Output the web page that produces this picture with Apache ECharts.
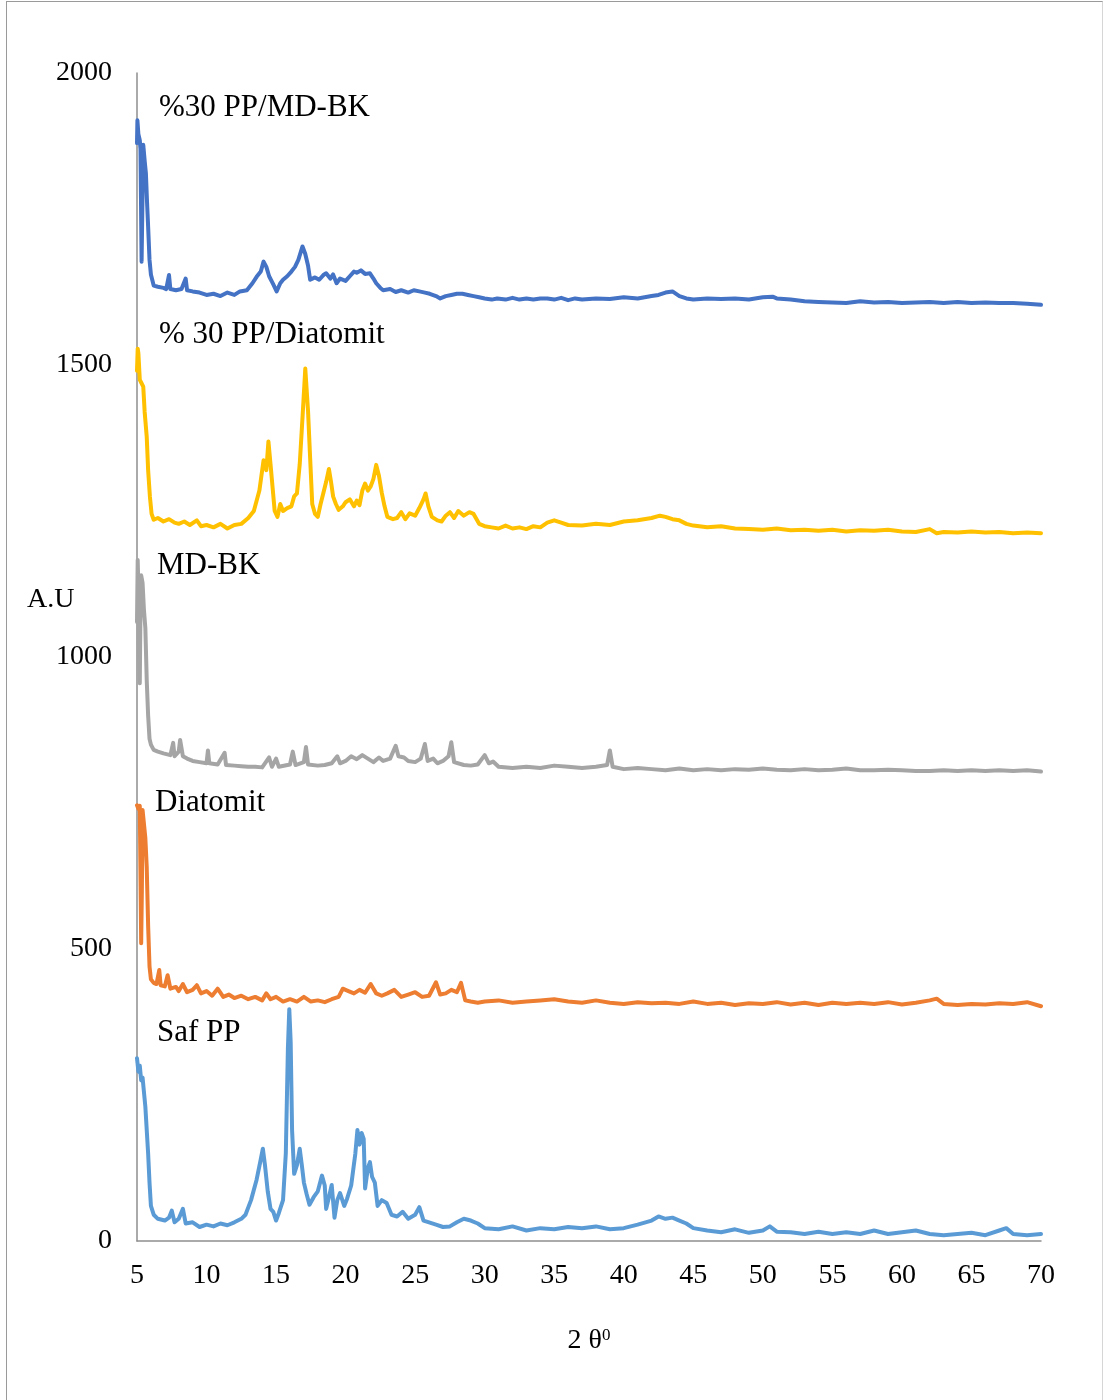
<!DOCTYPE html>
<html>
<head>
<meta charset="utf-8">
<script src="https://cdn.jsdelivr.net/npm/echarts@6/dist/echarts.min.js"></script>
<style>
  html, body { margin: 0; padding: 0; background: #fff; }
  #main { width: 1103px; height: 1400px; }
  #frame {
    position: absolute; left: 6px; top: 1px; width: 1095px; height: 1410px;
    border-left: 1px solid #9a9a9a; border-top: 1px solid #9a9a9a; border-right: 1px solid #d6d6d6;
    pointer-events: none;
  }
</style>
</head>
<body>
<div id="main"></div>
<div id="frame"></div>
<script>
// series names, bottom to top
const seriesNames = ["Saf PP", "Diatomit", "MD-BK", "% 30 PP/Diatomit", "%30 PP/MD-BK"]
const colors = ["#5B9BD5", "#ED7D31", "#A5A5A5", "#FFC000", "#4472C4"]

// [2θ, A.U]
const safPP = [
  [5.0,313],[5.1,290],[5.2,300],[5.3,275],[5.4,280],[5.5,255],[5.6,230],[5.7,190],[5.8,150],[5.9,100],
  [6.0,60],[6.2,45],[6.5,38],[7.0,35],[7.3,40],[7.5,52],[7.7,32],[8.0,38],[8.3,55],[8.5,30],
  [9.0,32],[9.5,24],[10.0,28],[10.5,25],[11.0,30],[11.5,27],[12.0,32],[12.5,38],[12.8,45],[13.2,70],
  [13.6,105],[13.9,140],[14.05,158],[14.2,130],[14.4,85],[14.6,55],[14.8,50],[15.0,35],[15.2,48],[15.5,70],
  [15.7,150],[15.85,330],[15.95,397],[16.05,340],[16.15,190],[16.3,115],[16.5,130],[16.7,158],[16.85,130],[17.0,100],
  [17.2,80],[17.4,62],[17.7,75],[18.0,85],[18.3,112],[18.5,95],[18.6,55],[18.8,75],[19.0,96],[19.2,40],
  [19.4,70],[19.6,82],[19.9,60],[20.1,72],[20.4,95],[20.7,150],[20.85,190],[21.0,165],[21.15,185],[21.3,175],
  [21.4,90],[21.6,125],[21.75,135],[21.9,110],[22.1,100],[22.3,60],[22.6,70],[22.95,65],[23.3,45],[23.7,42],
  [24.1,50],[24.5,38],[25.0,45],[25.3,58],[25.6,35],[26.0,32],[26.5,28],[27.0,24],[27.5,25],[28.0,32],
  [28.5,38],[29.0,35],[29.5,30],[30.0,22],[31.0,20],[32.0,25],[33.0,18],[34.0,22],[35.0,20],[36.0,24],
  [37.0,22],[38.0,25],[39.0,20],[40.0,22],[41.0,28],[42.0,35],[42.5,42],[43.0,38],[43.5,40],[44.0,35],
  [44.5,30],[45.0,22],[46.0,18],[47.0,15],[48.0,20],[49.0,14],[50.0,18],[50.5,25],[51.0,16],[52.0,15],
  [53.0,12],[54.0,16],[55.0,12],[56.0,15],[57.0,12],[58.0,18],[59.0,12],[60.0,15],[61.0,18],[62.0,12],
  [63.0,10],[64.0,12],[65.0,14],[66.0,10],[67.0,18],[67.5,22],[68.0,12],[69.0,10],[70.0,12]
]

const diatomit = [
  [5.0,746],[5.1,740],[5.2,745],[5.3,510],[5.35,600],[5.4,738],[5.5,735],[5.6,690],[5.7,640],[5.8,540],
  [5.9,470],[6.0,448],[6.2,442],[6.4,440],[6.6,464],[6.7,438],[7.0,436],[7.2,455],[7.4,432],[7.8,435],
  [8.0,428],[8.3,440],[8.6,426],[9.0,430],[9.3,438],[9.6,424],[10.0,428],[10.4,420],[10.8,432],[11.2,418],
  [11.6,422],[12.0,416],[12.5,420],[13.0,414],[13.5,418],[14.0,412],[14.3,424],[14.6,414],[15.0,418],[15.5,410],
  [16.0,414],[16.5,410],[17.0,418],[17.5,410],[18.0,412],[18.5,409],[19.0,414],[19.5,418],[19.8,432],[20.2,428],
  [20.6,424],[21.0,430],[21.4,425],[21.8,440],[22.2,424],[22.6,420],[23.0,424],[23.5,430],[24.0,418],[24.5,422],
  [25.0,426],[25.5,418],[26.0,420],[26.5,443],[26.8,422],[27.2,424],[27.6,430],[28.0,426],[28.3,442],[28.6,412],
  [29.0,410],[29.5,408],[30.0,410],[31.0,412],[32.0,408],[33.0,410],[34.0,412],[35.0,414],[36.0,410],[37.0,408],
  [38.0,412],[39.0,408],[40.0,406],[41.0,409],[42.0,407],[43.0,408],[44.0,406],[45.0,410],[46.0,406],[47.0,408],
  [48.0,404],[49.0,407],[50.0,406],[51.0,409],[52.0,405],[53.0,408],[54.0,404],[55.0,408],[56.0,406],[57.0,408],
  [58.0,406],[59.0,409],[60.0,405],[61.0,408],[62.0,412],[62.5,415],[63.0,406],[64.0,404],[65.0,406],[66.0,405],
  [67.0,407],[68.0,406],[69.0,409],[70.0,402]
]

const mdBK = [
  [5.0,1060],[5.05,1166],[5.1,1120],[5.15,1000],[5.2,955],[5.25,1080],[5.3,1140],[5.4,1127],[5.5,1080],[5.6,1050],
  [5.7,960],[5.8,900],[5.9,860],[6.0,850],[6.2,841],[6.5,838],[6.9,835],[7.4,832],[7.6,853],[7.7,830],
  [8.0,838],[8.1,858],[8.3,830],[8.6,826],[9.0,822],[9.5,820],[10.0,818],[10.1,840],[10.2,818],[10.8,816],
  [11.3,836],[11.4,815],[12.0,814],[12.5,813],[13.0,812],[13.5,812],[14.0,811],[14.5,828],[14.7,812],[15.0,826],
  [15.2,812],[16.0,816],[16.2,838],[16.4,815],[17.0,820],[17.15,846],[17.3,816],[18.0,814],[18.5,815],[19.0,818],
  [19.4,830],[19.6,818],[20.0,822],[20.4,830],[20.8,825],[21.2,832],[21.6,826],[22.0,820],[22.4,828],[22.7,822],
  [23.2,826],[23.6,848],[23.8,830],[24.2,828],[24.5,822],[25.0,820],[25.4,826],[25.7,851],[25.9,822],[26.3,826],
  [26.6,818],[27.0,822],[27.4,830],[27.6,854],[27.8,820],[28.5,815],[29.0,814],[29.5,816],[30.0,832],[30.3,818],
  [30.6,821],[31.0,812],[32.0,810],[33.0,812],[34.0,810],[35.0,814],[36.0,812],[37.0,810],[38.0,812],[38.8,815],
  [39.0,840],[39.2,812],[40.0,808],[41.0,810],[42.0,808],[43.0,806],[44.0,809],[45.0,806],[46.0,808],[47.0,806],
  [48.0,808],[49.0,807],[50.0,809],[51.0,807],[52.0,806],[53.0,808],[54.0,806],[55.0,807],[56.0,809],[57.0,806],
  [58.0,806],[59.0,807],[60.0,806],[61.0,805],[62.0,805],[63.0,806],[64.0,805],[65.0,806],[66.0,805],[67.0,806],
  [68.0,805],[69.0,806],[70.0,804]
]

const ppDiatomit = [
  [5.0,1490],[5.05,1528],[5.1,1520],[5.2,1475],[5.3,1470],[5.45,1463],[5.55,1420],[5.7,1377],[5.8,1320],[5.93,1274],
  [6.05,1245],[6.2,1235],[6.5,1238],[6.9,1232],[7.3,1236],[7.7,1230],[8.0,1228],[8.4,1232],[8.8,1226],[9.3,1234],
  [9.6,1224],[10.0,1226],[10.5,1222],[11.0,1228],[11.5,1220],[12.0,1226],[12.5,1228],[13.0,1238],[13.4,1250],[13.8,1285],
  [14.1,1337],[14.3,1320],[14.45,1369],[14.6,1330],[14.75,1290],[14.9,1250],[15.1,1240],[15.3,1262],[15.5,1250],[15.8,1255],
  [16.1,1258],[16.3,1275],[16.5,1280],[16.7,1330],[16.9,1410],[17.1,1494],[17.3,1420],[17.45,1340],[17.6,1262],[17.8,1245],
  [18.0,1240],[18.2,1262],[18.4,1281],[18.6,1300],[18.8,1322],[18.95,1300],[19.1,1275],[19.3,1262],[19.5,1252],[19.8,1258],
  [20.0,1265],[20.3,1270],[20.6,1258],[20.8,1268],[21.0,1260],[21.2,1285],[21.4,1297],[21.6,1285],[21.8,1292],[22.0,1305],
  [22.2,1329],[22.4,1310],[22.6,1281],[22.8,1258],[23.0,1240],[23.4,1236],[23.7,1238],[24.0,1248],[24.3,1236],[24.6,1246],
  [25.0,1242],[25.3,1255],[25.6,1270],[25.75,1280],[25.95,1258],[26.2,1240],[26.6,1234],[26.9,1232],[27.2,1242],[27.5,1248],
  [27.8,1238],[28.1,1250],[28.5,1242],[28.9,1248],[29.2,1245],[29.6,1228],[30.0,1224],[30.5,1222],[31.0,1220],[31.5,1225],
  [32.0,1220],[32.5,1222],[33.0,1219],[33.5,1224],[34.0,1222],[34.5,1230],[35.0,1234],[35.5,1230],[36.0,1226],[37.0,1225],
  [38.0,1228],[39.0,1226],[40.0,1232],[41.0,1234],[42.0,1238],[42.6,1242],[43.0,1240],[43.5,1236],[44.0,1234],[44.5,1228],
  [45.0,1225],[46.0,1222],[47.0,1224],[48.0,1220],[49.0,1219],[50.0,1218],[51.0,1220],[52.0,1217],[53.0,1218],[54.0,1216],
  [55.0,1218],[56.0,1215],[57.0,1217],[58.0,1216],[59.0,1218],[60.0,1215],[61.0,1214],[62.0,1219],[62.5,1212],[63.0,1214],
  [64.0,1213],[65.0,1215],[66.0,1213],[67.0,1214],[68.0,1212],[69.0,1213],[70.0,1212]
]

const ppMdBK = [
  [5.0,1880],[5.03,1919],[5.1,1895],[5.2,1885],[5.25,1870],[5.33,1677],[5.38,1760],[5.45,1877],[5.55,1850],[5.64,1828],
  [5.72,1780],[5.8,1737],[5.9,1680],[6.0,1655],[6.2,1636],[6.5,1634],[6.9,1632],[7.1,1630],[7.3,1654],[7.4,1630],
  [7.8,1628],[8.2,1630],[8.5,1648],[8.6,1628],[9.0,1626],[9.5,1624],[10.0,1620],[10.5,1622],[11.0,1618],[11.5,1624],
  [12.0,1620],[12.4,1626],[12.9,1628],[13.3,1640],[13.6,1651],[13.9,1660],[14.1,1677],[14.3,1668],[14.5,1652],[14.8,1638],
  [15.04,1626],[15.3,1640],[15.5,1646],[15.8,1652],[16.1,1660],[16.36,1668],[16.6,1680],[16.9,1703],[17.1,1690],[17.3,1670],
  [17.45,1646],[17.8,1650],[18.1,1646],[18.4,1654],[18.6,1657],[18.9,1648],[19.1,1655],[19.35,1640],[19.6,1648],[20.0,1644],
  [20.3,1652],[20.6,1660],[20.8,1658],[21.1,1662],[21.4,1656],[21.75,1657],[22.0,1648],[22.2,1640],[22.5,1632],[22.7,1628],
  [23.2,1630],[23.6,1625],[24.0,1628],[24.5,1624],[24.9,1628],[25.3,1626],[25.7,1624],[26.05,1622],[26.5,1618],[26.8,1614],
  [27.2,1618],[27.6,1620],[28.0,1622],[28.4,1622],[28.8,1620],[29.2,1618],[29.6,1616],[30.0,1614],[30.5,1612],[30.9,1614],
  [31.5,1612],[32.0,1615],[32.5,1612],[33.0,1614],[33.5,1612],[34.0,1614],[34.5,1614],[35.0,1612],[35.5,1615],[36.0,1611],
  [36.5,1614],[37.0,1612],[38.0,1614],[39.0,1613],[40.0,1616],[41.0,1614],[42.0,1618],[42.5,1620],[43.0,1624],[43.5,1626],
  [44.0,1618],[44.5,1614],[45.0,1612],[46.0,1614],[47.0,1613],[48.0,1614],[49.0,1612],[50.0,1616],[50.7,1617],[51.0,1614],
  [52.0,1612],[53.0,1609],[54.0,1608],[55.0,1607],[56.0,1606],[57.0,1609],[58.0,1607],[59.0,1608],[60.0,1606],[61.0,1607],
  [62.0,1608],[63.0,1606],[64.0,1608],[65.0,1606],[66.0,1607],[67.0,1606],[68.0,1606],[69.0,1605],[70.0,1603]
]

const allData = [safPP, diatomit, mdBK, ppDiatomit, ppMdBK]

// label positions (px) for the curve names
const labelPos = [[157, 1033], [155, 803], [157, 566], [159, 335], [159, 108]]

const serif = "'Liberation Serif', 'Times New Roman', serif"

const myChart = echarts.init(document.getElementById("main"))

const options = {
  animation: false,
  backgroundColor: "#fff",
  grid: { left: 137, right: 62, top: 73, bottom: 159 },
  xAxis: {
    type: "value",
    min: 5, max: 70, interval: 5,
    name: "2 θ{sup|0}",
    nameLocation: "middle",
    nameGap: 86,
    nameTextStyle: {
      fontFamily: serif, fontSize: 28, color: "#000",
      rich: { sup: { fontFamily: serif, fontSize: 17, color: "#000", verticalAlign: "top", lineHeight: 28 } }
    },
    axisLine: { lineStyle: { color: "#8e8e8e", width: 1.5 } },
    axisTick: { show: false },
    splitLine: { show: false },
    axisLabel: { fontFamily: serif, fontSize: 28, color: "#000", margin: 21, formatter: v => String(v) }
  },
  yAxis: {
    type: "value",
    min: 0, max: 2000, interval: 500,
    axisLine: { show: true, lineStyle: { color: "#8e8e8e", width: 1.5 } },
    axisTick: { show: false },
    splitLine: { show: false },
    axisLabel: { fontFamily: serif, fontSize: 28, color: "#000", margin: 25, formatter: v => String(v) }
  },
  graphic: [
    {
      type: "text", left: 27, top: 586,
      style: { text: "A.U", font: "28px " + serif, fill: "#000" }
    }
  ].concat(seriesNames.map((name, i) => ({
    type: "text",
    x: labelPos[i][0], y: labelPos[i][1],
    style: { text: name, font: "31px " + serif, fill: "#000", textVerticalAlign: "middle", verticalAlign: "middle" }
  }))),
  series: allData.map((d, i) => ({
    name: seriesNames[i],
    type: "line",
    data: d,
    showSymbol: false,
    lineStyle: { color: colors[i], width: 4, join: "round", cap: "round" },
    itemStyle: { color: colors[i] },
    z: 2 + i
  }))
}

myChart.setOption(options)
window.onresize = () => myChart.resize()
</script>
</body>
</html>
